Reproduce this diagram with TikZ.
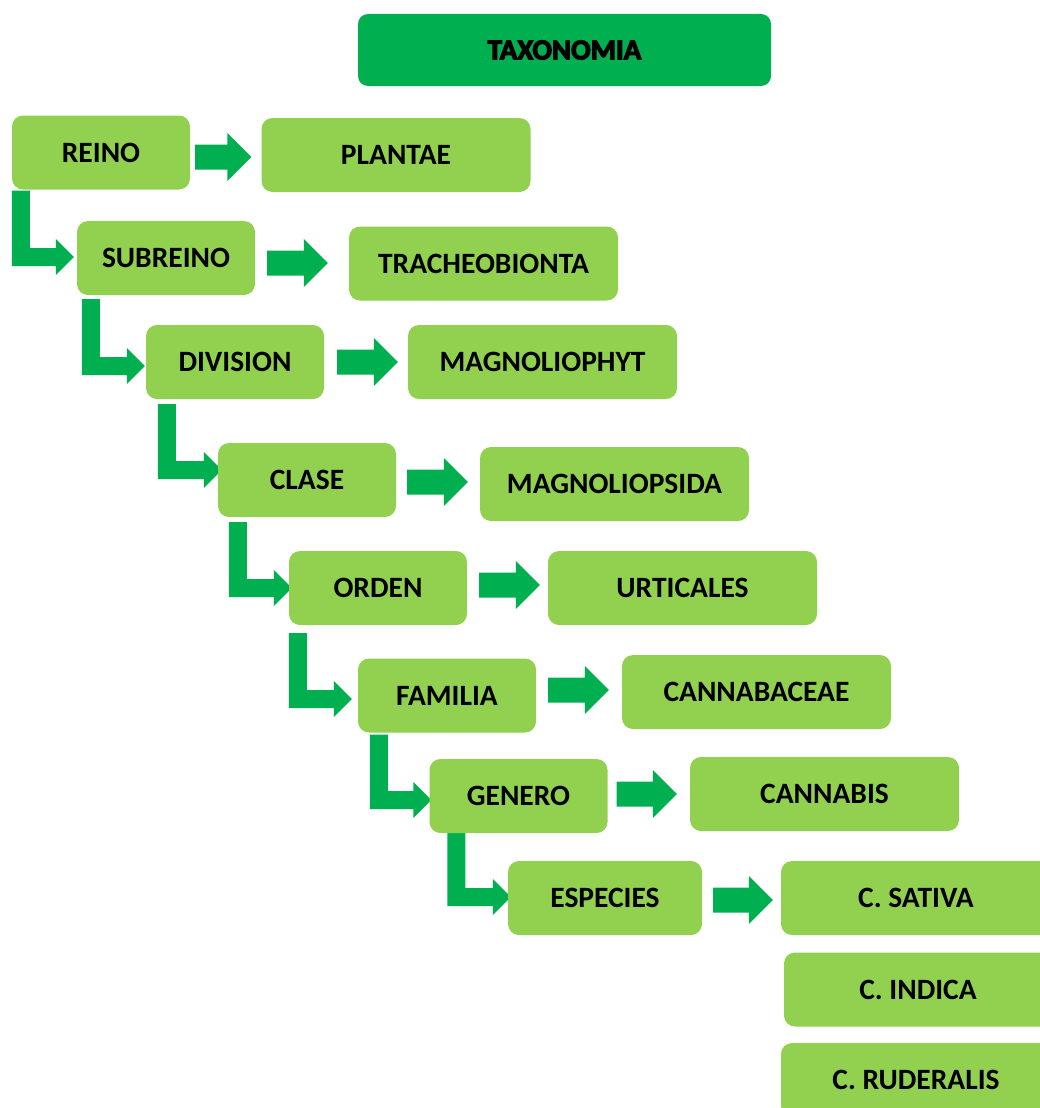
\documentclass[tikz,border=0pt]{standalone}
\usepackage{fontspec}
\setmainfont{Carlito}
\newfontfamily\titlefont{Carlito}[FakeBold=4]
\usetikzlibrary{calc,backgrounds}
\definecolor{lgreen}{HTML}{92D050}
\definecolor{dgreen}{HTML}{00B050}
% elbow block arrow: parent, child, x offset of bar, dy of centre (image px, down +), tip dx, top gap
\newcommand\elbowarrow[6]{%
  \fill[dgreen] let \p1=(#1.south west), \p2=(#2.west) in
    (\x1+#3, \y1-#6) -- (\x1+#3+18, \y1-#6) -- (\x1+#3+18, \y2-#4+9)
    -- (\x2+#5-18, \y2-#4+9) -- (\x2+#5-18, \y2-#4+18) -- (\x2+#5, \y2-#4)
    -- (\x2+#5-18, \y2-#4-18) -- (\x2+#5-18, \y2-#4-9) -- (\x1+#3, \y2-#4-9) -- cycle;}
% straight block arrow: parent, child, start gap, end gap, dy of centre (image px, down +)
\newcommand\blockarrow[5]{%
  \fill[dgreen] let \p1=(#1.east), \p2=(#2.west) in
    (\x1+#3, \y1-#5+12.5) -- (\x2-#4-24, \y1-#5+12.5) -- (\x2-#4-24, \y1-#5+24)
    -- (\x2-#4, \y1-#5) -- (\x2-#4-24, \y1-#5-24) -- (\x2-#4-24, \y1-#5-12.5)
    -- (\x1+#3, \y1-#5-12.5) -- cycle;}
\begin{document}
\begin{tikzpicture}[x=1pt,y=-1pt,
  box/.style={fill=lgreen, rounded corners=11pt, minimum height=74pt, inner sep=0pt,
    font=\fontsize{29.5}{30}\selectfont\bfseries},
  lbox/.style={box, minimum width=178pt},
  rbox/.style={box, minimum width=269pt},
  titlebox/.style={fill=dgreen, rounded corners=10pt, minimum width=413pt, minimum height=72pt,
    inner sep=0pt, font=\titlefont\bfseries\fontsize{29}{30}\selectfont}]
\useasboundingbox (0,0) rectangle (1040,1108);
\node[titlebox] (title) at (564.5,50) {TAXONOMIA};
\node[lbox] (reino) at (101,152.5) {REINO};
\node[rbox] (plantae) at (396,155) {PLANTAE};
\node[lbox] (subreino) at (166,258) {SUBREINO};
\node[rbox] (tracheo) at (483.5,263.5) {TRACHEOBIONTA};
\node[lbox] (division) at (235,362) {DIVISION};
\node[rbox] (magphyt) at (542.5,362) {MAGNOLIOPHYT};
\node[lbox] (clase) at (307,480) {CLASE};
\node[rbox] (magpsida) at (614.5,484) {MAGNOLIOPSIDA};
\node[lbox] (orden) at (378,588) {ORDEN};
\node[rbox] (urticales) at (682.5,588) {URTICALES};
\node[lbox] (familia) at (447,695.5) {FAMILIA};
\node[rbox] (cannabaceae) at (756.5,692) {CANNABACEAE};
\node[lbox] (genero) at (518.5,796) {GENERO};
\node[rbox] (cannabis) at (824.5,794) {CANNABIS};
\node[box, minimum width=194pt] (especies) at (605,898) {ESPECIES};
\node[box, minimum width=270pt] (sativa) at (916,898) {C. SATIVA};
\node[box, minimum width=268pt] (indica) at (918,989.5) {C. INDICA};
\node[box, minimum width=270pt] (ruderalis) at (916,1080) {C. RUDERALIS};
\begin{scope}[on background layer]
\elbowarrow{reino}{subreino}{0}{-1}{-3}{1}
\elbowarrow{subreino}{division}{5}{4}{-1}{4}
\elbowarrow{division}{clase}{12}{-10}{4}{5}
\elbowarrow{clase}{orden}{11}{0}{3}{5}
\elbowarrow{orden}{familia}{0}{3.5}{-6}{8}
\elbowarrow{familia}{genero}{12}{4}{2}{2}
\elbowarrow{genero}{especies}{18}{-1}{3}{-2}
\blockarrow{reino}{plantae}{5}{10}{4.5}
\blockarrow{subreino}{tracheo}{12}{21}{5}
\blockarrow{division}{magphyt}{13}{10}{0}
\blockarrow{clase}{magpsida}{11}{12}{2}
\blockarrow{orden}{urticales}{12}{8}{-3}
\blockarrow{familia}{cannabaceae}{12}{13}{-5.5}
\blockarrow{genero}{cannabis}{9}{13}{-2}
\blockarrow{especies}{sativa}{11}{8}{2}
\end{scope}
\end{tikzpicture}
\end{document}
